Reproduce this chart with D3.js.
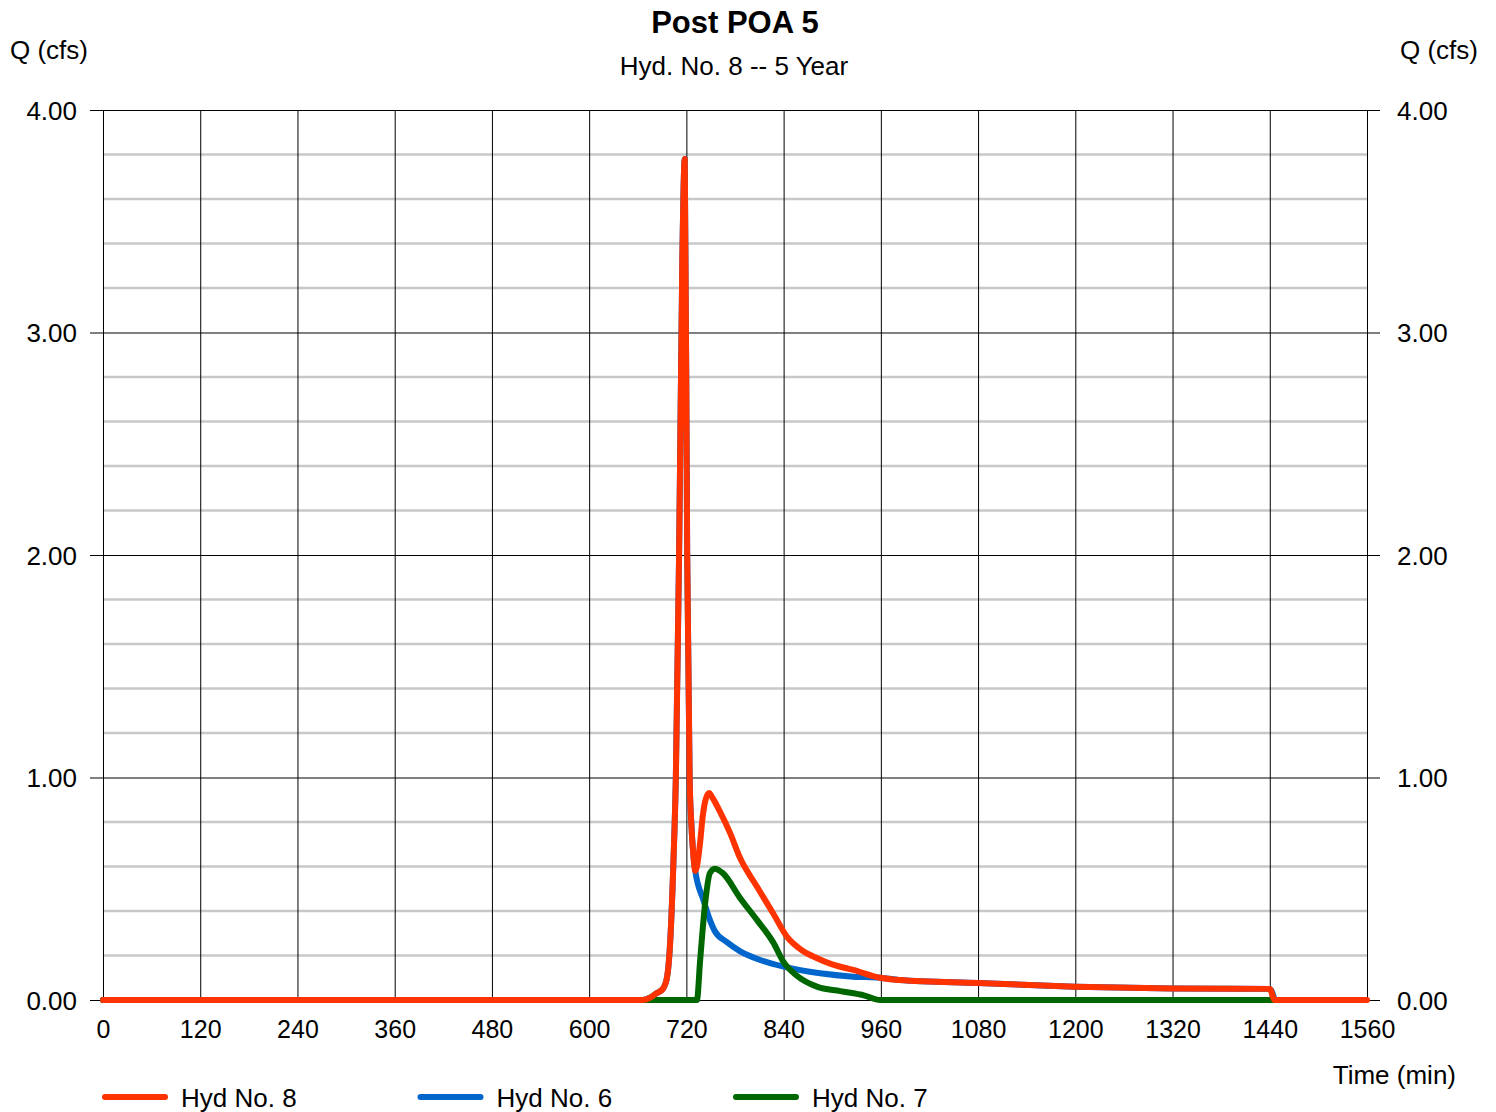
<!DOCTYPE html>
<html>
<head>
<meta charset="utf-8">
<script src="https://cdn.jsdelivr.net/npm/d3@7"></script>
<style>
	body { margin: 0; background: #fff; }
	text { font-family: "Liberation Sans", Arial, sans-serif; fill: #000; }
</style>
</head>
<body>
<svg id="chart" width="1496" height="1112"></svg>
<script>
var xTicks = [0, 120, 240, 360, 480, 600, 720, 840, 960, 1080, 1200, 1320, 1440, 1560];
var yMajor = [0, 1, 2, 3, 4];
var yMinor = [0.2, 0.4, 0.6, 0.8, 1.2, 1.4, 1.6, 1.8, 2.2, 2.4, 2.6, 2.8, 3.2, 3.4, 3.6, 3.8];

var hyd8T = [0, 666, 675, 683, 691, 696, 700, 704, 707, 711, 715, 718, 721, 724, 726, 728, 731, 733, 737, 740, 743, 748, 752, 761, 774, 786, 807, 827, 845, 862, 880, 900, 926, 959, 983, 1080, 1200, 1320, 1440, 1446, 1560];
var hyd8Q = [0, 0, 0.01, 0.03, 0.05, 0.1, 0.26, 0.62, 1.0, 2.0, 3.33, 3.78, 2.0, 1.0, 0.8, 0.68, 0.58, 0.6, 0.71, 0.82, 0.89, 0.93, 0.91, 0.85, 0.75, 0.64, 0.51, 0.39, 0.28, 0.225, 0.19, 0.16, 0.135, 0.10, 0.09, 0.076, 0.06, 0.052, 0.05, 0, 0];

var hyd6T = [0, 666, 675, 683, 691, 696, 700, 704, 707, 711, 715, 718, 721, 724, 726, 728, 731, 741, 749, 755, 770, 786, 811, 840, 885, 926, 959, 983, 1080, 1200, 1320, 1440, 1446];
var hyd6Q = [0, 0, 0.01, 0.03, 0.05, 0.1, 0.26, 0.62, 1.0, 2.0, 3.33, 3.78, 2.0, 1.0, 0.8, 0.68, 0.58, 0.45, 0.36, 0.31, 0.26, 0.22, 0.18, 0.15, 0.12, 0.105, 0.10, 0.09, 0.076, 0.06, 0.052, 0.05, 0];

var hyd7T = [0, 733, 737, 743, 749, 755, 765, 786, 807, 827, 840, 856, 881, 910, 940, 959, 1446];
var hyd7Q = [0, 0, 0.18, 0.43, 0.57, 0.59, 0.57, 0.46, 0.36, 0.26, 0.17, 0.11, 0.06, 0.04, 0.02, 0, 0];

var seriesNames = ["Hyd No. 8", "Hyd No. 6", "Hyd No. 7"];
var seriesColors = ["#ff3300", "#0066cc", "#006600"];

function drawChart() {
	var svg = d3.select('#chart'),
		pL = 103, pR = 1367, pT = 110, pB = 1000;

	var scaleX = d3.scaleLinear().domain([0, 1560]).range([pL, pR]);
	var scaleY = d3.scaleLinear().domain([0, 4]).range([pB, pT]);

	function pts(t, q) {
		return t.map(function (d, i) { return {x: d, y: q[i]}; });
	}

	// gridlines
	var grid = svg.append("g");
	grid.selectAll(".minor").data(yMinor).enter().append("line")
		.attr("x1", pL).attr("x2", pR)
		.attr("y1", function (d) { return scaleY(d); })
		.attr("y2", function (d) { return scaleY(d); })
		.attr("stroke", "#c8c8c8").attr("stroke-width", 2.5);
	grid.selectAll(".vert").data(xTicks).enter().append("line")
		.attr("x1", function (d) { return scaleX(d) + 0.5; })
		.attr("x2", function (d) { return scaleX(d) + 0.5; })
		.attr("y1", pT).attr("y2", pB)
		.attr("stroke", "#000").attr("stroke-width", 1);
	grid.selectAll(".major").data(yMajor).enter().append("line")
		.attr("x1", pL - 13).attr("x2", pR + 13)
		.attr("y1", function (d) { return scaleY(d) + 0.5; })
		.attr("y2", function (d) { return scaleY(d) + 0.5; })
		.attr("stroke", "#000").attr("stroke-width", 1);

	// axes (labels only, lines drawn above)
	var fmt = d3.format(".2f");
	var axL = svg.append("g").attr("transform", "translate(" + pL + ",0)")
		.call(d3.axisLeft(scaleY).tickValues(yMajor).tickFormat(fmt).tickSize(0).tickPadding(26));
	var axR = svg.append("g").attr("transform", "translate(" + pR + ",0)")
		.call(d3.axisRight(scaleY).tickValues(yMajor).tickFormat(fmt).tickSize(0).tickPadding(30));
	var axB = svg.append("g").attr("transform", "translate(0," + pB + ")")
		.call(d3.axisBottom(scaleX).tickValues(xTicks).tickFormat(d3.format("d")).tickSize(0).tickPadding(20));
	[axL, axR].forEach(function (a) {
		a.select(".domain").remove();
		a.selectAll("text").attr("font-size", 26).attr("font-family", null).attr("dy", "0.35em");
	});
	axB.select(".domain").remove();
	axB.selectAll("text").attr("font-size", 25).attr("font-family", null);

	// series lines
	var line = d3.line()
		.x(function (d) { return scaleX(d.x); })
		.y(function (d) { return scaleY(d.y); })
		.curve(d3.curveMonotoneX);

	var data = [pts(hyd6T, hyd6Q), pts(hyd7T, hyd7Q), pts(hyd8T, hyd8Q)];
	var colorIdx = [1, 2, 0];
	data.forEach(function (s, i) {
		svg.append("path")
			.datum(s)
			.attr("fill", "none")
			.attr("stroke", seriesColors[colorIdx[i]])
			.attr("stroke-width", 6)
			.attr("stroke-linejoin", "round")
			.attr("stroke-linecap", "round")
			.attr("d", line);
	});

	// titles
	svg.append("text").attr("x", 735).attr("y", 33).attr("text-anchor", "middle")
		.attr("font-size", 31).attr("font-weight", "bold").text("Post POA 5");
	svg.append("text").attr("x", 734).attr("y", 75).attr("text-anchor", "middle")
		.attr("font-size", 26).text("Hyd. No. 8 -- 5 Year");
	svg.append("text").attr("x", 10).attr("y", 59).attr("font-size", 26).text("Q (cfs)");
	svg.append("text").attr("x", 1478).attr("y", 59).attr("text-anchor", "end")
		.attr("font-size", 26).text("Q (cfs)");
	svg.append("text").attr("x", 1456).attr("y", 1084).attr("text-anchor", "end")
		.attr("font-size", 26).text("Time (min)");

	// legend
	var leg = svg.append("g").selectAll("g").data(seriesNames).enter().append("g")
		.attr("transform", function (d, i) { return "translate(" + (103 + i * 315.5) + ",1097)"; });
	leg.append("line").attr("x1", 2).attr("x2", 62).attr("y1", 0).attr("y2", 0)
		.attr("stroke", function (d, i) { return seriesColors[i]; })
		.attr("stroke-width", 6).attr("stroke-linecap", "round");
	leg.append("text").attr("x", 78).attr("y", 9.5).attr("font-size", 26).text(function (d) { return d; });
}

drawChart();
</script>
</body>
</html>
